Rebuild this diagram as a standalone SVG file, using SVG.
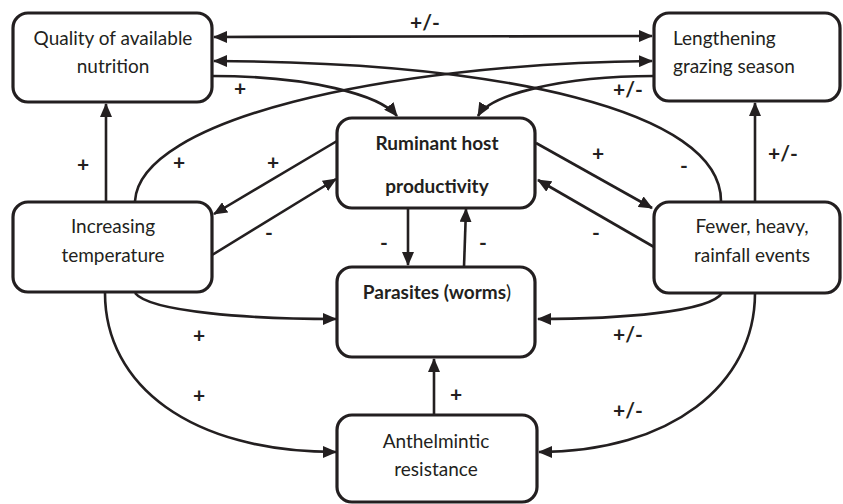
<svg xmlns="http://www.w3.org/2000/svg" width="843" height="504" viewBox="0 0 843 504">
<style>
.box{fill:#fff;stroke:#231f20;stroke-width:3.2}
.t{font-family:Lato,"Liberation Sans",sans-serif;font-size:19px;fill:#231f20}
.b{font-weight:bold}
.c{text-anchor:middle}
.lbl{font-family:Lato,"Liberation Sans",sans-serif;font-size:21px;font-weight:bold;fill:#231f20;text-anchor:middle}
.ln{fill:none;stroke:#231f20;stroke-width:2.6;marker-end:url(#ah)}
</style>
<defs>
<marker id="ah" markerUnits="userSpaceOnUse" markerWidth="14" markerHeight="12" viewBox="0 0 14 12" refX="13" refY="6" orient="auto-start-reverse">
<path d="M0,0 L14,6 L0,12 z" fill="#231f20"/>
</marker>
</defs>
<rect width="843" height="504" fill="#fff"/>
<g id="connectors">
<path class="ln" d="M214,37 L652,36" marker-start="url(#ah)"/>
<path class="ln" d="M721,201 C721,110 500,62 214,61"/>
<path class="ln" d="M135,201 C140,120 380,64 652,61"/>
<path class="ln" d="M212,76 C310,76 380,95 397,116"/>
<path class="ln" d="M654,76 C560,76 490,95 478,116"/>
<path class="ln" d="M106,201 L106,104"/>
<path class="ln" d="M755,201 L755,103"/>
<path class="ln" d="M337,141 L214,214"/>
<path class="ln" d="M212,255 L336,179"/>
<path class="ln" d="M536,143 L652,208"/>
<path class="ln" d="M654,247 L538,180"/>
<path class="ln" d="M408,208 L408,265"/>
<path class="ln" d="M464,267 L466,209"/>
<path class="ln" d="M135,293 C150,312 250,319 336,319"/>
<path class="ln" d="M722,293 C710,312 620,319 538,319"/>
<path class="ln" d="M105,293 C105,385 190,452 336,452"/>
<path class="ln" d="M755,293 C755,385 670,452 539,452"/>
<path class="ln" d="M434,415 L434,359"/>
</g>
<g id="labels">
<text class="lbl" x="425" y="30">+/-</text>
<text class="lbl" x="240" y="96">+</text>
<text class="lbl" x="628" y="97">+/-</text>
<text class="lbl" x="83" y="172">+</text>
<text class="lbl" x="179" y="170">+</text>
<text class="lbl" x="273" y="170">+</text>
<text class="lbl" x="598" y="161">+</text>
<text class="lbl" x="684" y="173">-</text>
<text class="lbl" x="783" y="161">+/-</text>
<text class="lbl" x="269" y="240">-</text>
<text class="lbl" x="384" y="250">-</text>
<text class="lbl" x="483" y="250">-</text>
<text class="lbl" x="596" y="240">-</text>
<text class="lbl" x="199" y="343">+</text>
<text class="lbl" x="628" y="342">+/-</text>
<text class="lbl" x="199" y="403">+</text>
<text class="lbl" x="628" y="418">+/-</text>
<text class="lbl" x="456" y="402">+</text>
</g>
<g id="quality">
<rect class="box" x="13" y="13" width="199" height="89" rx="15"/>
<text class="t c" x="113" y="45">Quality of available</text>
<text class="t c" x="113" y="73">nutrition</text>
</g>
<g id="lengthening">
<rect class="box" x="654" y="13" width="186" height="88" rx="15"/>
<text class="t" x="673" y="45">Lengthening</text>
<text class="t" x="673" y="73">grazing season</text>
</g>
<g id="ruminant">
<rect class="box" x="337" y="118" width="198" height="90" rx="15"/>
<text class="t b c" x="437" y="150">Ruminant host</text>
<text class="t b c" x="437" y="193">productivity</text>
</g>
<g id="temperature">
<rect class="box" x="13" y="202" width="199" height="90" rx="15"/>
<text class="t c" x="113" y="233">Increasing</text>
<text class="t c" x="113" y="262">temperature</text>
</g>
<g id="rainfall">
<rect class="box" x="654" y="202" width="186" height="91" rx="15"/>
<text class="t c" x="752" y="233">Fewer, heavy,</text>
<text class="t c" x="752" y="262">rainfall events</text>
</g>
<g id="parasites">
<rect class="box" x="337" y="267" width="198" height="90" rx="15"/>
<text class="t b c" x="437" y="299">Parasites (worms<tspan font-weight="normal">)</tspan></text>
</g>
<g id="resistance">
<rect class="box" x="337" y="415" width="200" height="87" rx="15"/>
<text class="t c" x="436" y="448">Anthelmintic</text>
<text class="t c" x="436" y="476">resistance</text>
</g>
</svg>
